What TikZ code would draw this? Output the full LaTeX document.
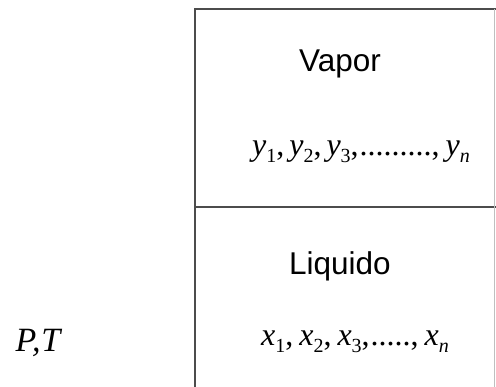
\documentclass[tikz,border=0pt]{standalone}
\usepackage{fontspec}
\setmainfont{Liberation Serif}
\newfontfamily\arialf{Liberation Sans}
\newcommand{\vv}[2]{{\itshape #1}\raisebox{-0.22em}{\fontsize{20}{20}\selectfont\upshape #2}}
\newcommand{\vn}[1]{{\itshape #1}\raisebox{-0.22em}{\fontsize{20}{20}\selectfont\itshape n}}
\begin{document}
\begin{tikzpicture}[x=1pt,y=-1pt,
  boxline/.style={draw=black!70,line width=1.4pt},
  sanslabel/.style={font=\arialf\fontsize{31.5}{36}\selectfont,inner sep=0pt},
  mathlabel/.style={font=\fontsize{32}{36}\selectfont,inner sep=0pt}]
\useasboundingbox (0,0) rectangle (496,387);
\coordinate (bl) at (195,387);
\coordinate (tl) at (195,9);
\coordinate (tr) at (496,9);
\coordinate (ml) at (195,207);
\coordinate (mr) at (496,207);
\coordinate (rt) at (494.5,9);
\coordinate (rb) at (494.5,387);
\draw[boxline] (bl) -- (tl) -- (tr);
\draw[boxline] (ml) -- (mr);
\draw[draw=black!25,line width=1pt] (rt) -- (rb);
\node[sanslabel] (vap) at (340,64) {Vapor};
\node[mathlabel] (yrow) at (361,152) {\vv{y}{1},\kern5pt\vv{y}{2},\kern5pt\vv{y}{3},\kern1pt.........,\kern6pt\vn{y}};
\node[sanslabel] (liq) at (340,266) {Liquido};
\node[mathlabel] (xrow) at (355,342) {\vv{x}{1},\kern6pt\vv{x}{2},\kern6pt\vv{x}{3},\kern1pt.....,\kern6pt\vn{x}};
\node[font=\fontsize{34}{38}\selectfont,inner sep=0pt] (pt) at (38,343) {\itshape P,\kern1pt T};
\end{tikzpicture}
\end{document}
